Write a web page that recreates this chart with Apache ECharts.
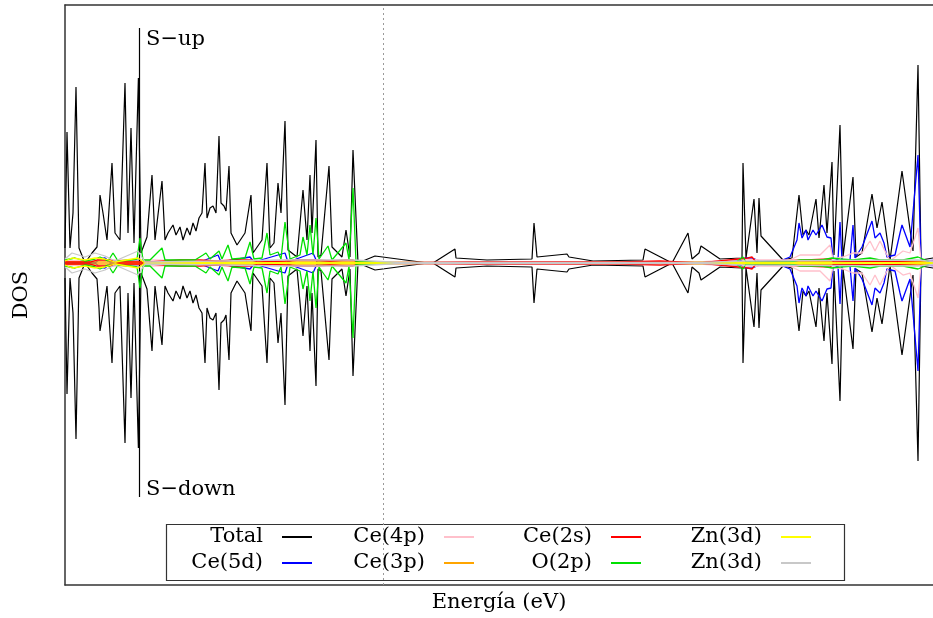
<!DOCTYPE html>
<html>
<head>
<meta charset="utf-8">
<script src="https://cdn.jsdelivr.net/npm/echarts@6/dist/echarts.min.js"></script>
<style>
html,body{margin:0;padding:0;background:#fff;}
#chart{width:933px;height:618px;}
</style>
</head>
<body>
<div id="chart"></div>
<script>
// ---- Data: [energy (eV, relative to Fermi level), DOS magnitude] ----
// Spin-up is drawn upward, spin-down (same magnitudes) downward on a mirrored axis.
const totalDOS = [
 [-15.90,1.5],[-15.80,13.1],[-15.65,1.5],[-15.50,5.0],[-15.35,17.6],[-15.20,1.5],[-14.90,0],
 [-14.55,1.0],[-14.30,1.6],[-14.20,4.5],[-14.15,6.8],[-14.00,5.0],[-13.80,2.3],[-13.55,10.0],
 [-13.40,3.0],[-13.15,2.3],[-12.90,18.0],[-12.75,3.0],[-12.60,13.5],[-12.45,2.0],[-12.23,18.5],
 [-12.10,1.0],[-11.80,2.6],[-11.55,8.8],[-11.40,2.3],[-11.05,8.2],[-10.90,2.3],[-10.75,3.0],
 [-10.50,3.8],[-10.35,2.8],[-10.15,3.6],[-10.00,2.3],[-9.80,3.5],[-9.65,2.8],[-9.50,4.0],
 [-9.35,3.2],[-9.20,4.5],[-9.05,5.0],[-8.90,10.0],[-8.80,4.5],[-8.65,5.5],[-8.50,5.7],
 [-8.35,5.0],[-8.20,12.7],[-8.10,6.0],[-7.95,5.7],[-7.85,5.2],[-7.70,9.7],[-7.60,3.0],
 [-7.30,1.8],[-6.90,3.0],[-6.60,6.8],[-6.50,1.0],[-6.05,2.3],[-5.80,10.0],[-5.65,1.5],
 [-5.45,2.0],[-5.25,8.0],[-5.10,5.0],[-4.90,14.2],[-4.75,1.3],[-4.30,0.6],[-4.00,7.3],
 [-3.80,2.3],[-3.65,8.8],[-3.55,3.0],[-3.35,12.3],[-3.25,0.6],[-3.10,0.8],[-2.70,9.7],
 [-2.55,1.6],[-2.05,0.6],[-1.85,3.3],[-1.65,0.6],[-1.50,11.3],[-1.25,0],[-0.40,0.7],
 [-0.30,0.5],[2.25,0],[2.50,0],[3.60,1.4],[3.65,0.5],[5.20,0.3],[7.45,0.4],[7.55,4.0],
 [7.70,0.6],[9.20,0.9],[9.30,0.6],[10.50,0.2],[13.00,0.3],[13.10,1.4],[14.45,0],[15.25,3.0],
 [15.45,0.4],[15.80,1.0],[15.90,1.7],[16.85,0.4],[17.95,0.5],[18.00,10.0],[18.15,0.5],
 [18.55,6.4],[18.70,1.0],[18.80,6.5],[18.90,2.7],[20.00,0.3],[20.45,0.5],[20.80,6.8],
 [21.00,2.8],[21.15,3.3],[21.30,2.8],[21.65,6.4],[21.80,2.5],[22.05,7.8],[22.20,3.0],
 [22.45,10.1],[22.55,0.8],[22.85,13.8],[23.00,0.6],[23.50,8.6],[23.65,0.6],[23.95,1.0],
 [24.45,6.9],[24.70,3.5],[24.95,6.1],[25.35,0.3],[25.95,9.2],[26.50,1.2],[26.75,19.8],
 [26.90,0.3],[27.50,0.5],[27.90,0.5]
];
const ce5dDOS = [
 [-15.90,0],[-14.40,0],[-14.15,0.4],[-13.90,0.5],[-13.65,0.1],[-12.15,0.3],[-12.00,0],
 [-9.15,0.1],[-8.25,0.8],[-8.10,0.1],[-6.65,0.6],[-6.45,0.1],[-4.90,1.0],[-4.75,0.1],
 [-3.50,1.0],[-3.30,0.1],[-1.15,0],[15.85,0],[17.85,0.2],[18.10,0.5],[18.45,0.5],[18.85,0.2],
 [19.85,0.2],[20.35,0.6],[20.70,2.3],[20.80,4.0],[20.95,2.5],[21.15,3.3],[21.25,2.3],
 [21.50,3.3],[21.65,2.8],[21.95,3.8],[22.20,2.6],[22.40,2.5],[22.50,0.5],[22.75,0.3],
 [22.85,4.1],[22.95,0.3],[23.35,0.3],[23.50,3.8],[23.60,0.5],[23.95,1.6],[24.45,4.2],
 [24.60,2.5],[24.85,3.0],[25.05,2.0],[25.20,0.6],[25.60,0.8],[25.85,3.0],[25.95,3.8],
 [26.35,1.6],[26.75,10.8],[26.90,0.2],[27.90,0.3]
];
const ce4pDOS = [
 [-15.90,0.2],[-14.15,0.3],[-12.15,0.3],[-6.65,0.2],[-4.15,0.3],[-1.50,0.2],[0.85,0],
 [10.85,0.1],[15.85,0.1],[17.35,0.3],[18.00,0.4],[18.85,0.3],[20.35,0.3],[20.85,0.8],
 [21.85,0.8],[22.35,1.8],[22.50,0.4],[23.00,0.6],[23.50,1.0],[23.95,1.0],[24.35,2.2],
 [24.60,1.2],[24.85,2.2],[25.05,1.4],[25.35,0.2],[26.00,1.2],[26.35,1.0],[26.75,3.5],
 [26.90,0.2],[27.90,0.2]
];
const ce3pDOS = [
 [-15.90,0.1],[-12.15,0.1],[-1.50,0.1],[5.00,0],[18.00,0.1],[26.75,0.2],[27.90,0]
];
const ce2sDOS = [
 [-15.90,0.1],[-14.65,0.1],[-14.30,0.3],[-13.65,0.3],[-13.25,0.1],[-11.65,0.1],[-10.90,0.2],
 [-10.15,0.3],[-9.15,0.3],[-8.35,0.2],[-7.40,0.3],[-6.55,0.3],[-6.25,0.1],[-4.90,0.2],
 [-4.15,0.3],[-3.35,0.3],[-2.65,0.2],[-1.85,0.3],[-1.50,0.3],[-1.15,0],[4.35,0.1],[5.85,0.1],
 [11.85,0.1],[13.85,0.2],[15.85,0],[18.25,0.5],[18.45,0.6],[18.65,0.1],[22.35,0.4],
 [22.55,0.1],[24.85,0.2],[27.35,0]
];
const o2pDOS = [
 [-15.90,0.3],[-15.40,0.5],[-14.90,0.2],[-14.40,0.4],[-14.15,0.6],[-13.75,0.2],[-13.50,1.0],
 [-13.25,0.2],[-12.65,0.3],[-12.30,0.4],[-12.15,2.5],[-12.00,0.3],[-11.65,0.3],[-11.05,1.5],
 [-10.90,0.3],[-9.40,0.3],[-9.00,0.8],[-8.85,1.0],[-8.65,0.4],[-8.20,1.2],[-8.05,0.4],
 [-7.75,1.8],[-7.55,0.4],[-6.90,0.5],[-6.65,2.1],[-6.45,0.4],[-6.05,0.5],[-5.80,3.0],
 [-5.65,0.8],[-5.25,1.1],[-5.10,0.4],[-4.90,4.1],[-4.65,0.4],[-4.15,0.8],[-4.00,2.6],
 [-3.80,0.8],[-3.65,3.8],[-3.50,0.8],[-3.35,4.5],[-3.20,0.4],[-2.75,1.7],[-2.55,0.3],
 [-1.85,2.0],[-1.70,0.3],[-1.50,7.5],[-1.35,0.1],[-0.65,0.1],[0.85,0],[17.60,0],[18.00,0.6],
 [18.15,0.1],[20.35,0.1],[20.85,0.3],[21.45,0.3],[21.95,0.3],[22.45,0.5],[22.85,0.4],
 [23.50,0.3],[24.35,0.5],[24.85,0.3],[26.00,0.3],[26.75,0.6],[27.35,0.1],[27.90,0]
];
const zn3dYellowDOS = [
 [-15.90,0.2],[-15.55,0.5],[-14.90,0.3],[-14.40,0.5],[-13.90,0.4],[-13.40,0.1],[-12.25,0.5],
 [-11.90,0],[27.90,0]
];
const zn3dGrayDOS = [
 [-15.90,0.4],[-15.55,1.0],[-14.90,0.6],[-14.40,1.0],[-13.90,0.7],[-13.40,0.2],[-12.25,1.2],
 [-11.90,0.1],[-8.20,0.2],[-4.90,0.3],[-1.50,0.3],[0.85,0.05],[15.85,0.05],[18.00,0.2],
 [26.75,0.3],[27.90,0.05]
];
const seriesNames = ['Total','Ce(5d)','Ce(4p)','Ce(3p)','Ce(2s)','O(2p)','Zn(3d)','Zn(3d) '];
const fermiEnergy = [0];
const spinMarkerEnergy = -12.18;
const spinMarkerRange = [23.5, -23.4];

// ---- Styling ----
const FONT = 'DejaVu Serif';
const AXIS_COLOR = '#333';
const styles = [
  {data: totalDOS, color:'#000000', width:1.2},
  {data: ce5dDOS, color:'#0000ff', width:1.3},
  {data: ce4pDOS, color:'#ffc0cb', width:1.3},
  {data: ce3pDOS, color:'#ffa500', width:1.3},
  {data: ce2sDOS, color:'#ff0000', width:1.3},
  {data: o2pDOS, color:'#00e000', width:1.3},
  {data: zn3dYellowDOS, color:'#ffff00', width:1.3},
  {data: zn3dGrayDOS, color:'#c8c8c8', width:1.3}
];

const series = [];
styles.forEach((s, i) => {
  [0, 1].forEach(axisIdx => {
    const ser = {
      type: 'line',
      name: seriesNames[i],
      data: s.data,
      xAxisIndex: 0,
      yAxisIndex: axisIdx,
      symbol: 'none',
      showSymbol: false,
      clip: true,
      lineStyle: {color: s.color, width: s.width},
      itemStyle: {color: s.color},
      emphasis: {disabled: true},
      animation: false,
      z: 2 + i
    };
    if (i === 0 && axisIdx === 0) {
      ser.markLine = {
        silent: true, symbol: ['none','none'], animation: false,
        label: {show: false},
        data: [
          {xAxis: fermiEnergy[0], lineStyle: {color:'#9a9a9a', type:[2,3], width:1}},
          [
            {coord:[spinMarkerEnergy, spinMarkerRange[0]], lineStyle:{color:'#000', type:'solid', width:1.2}},
            {coord:[spinMarkerEnergy, spinMarkerRange[1]]}
          ]
        ]
      };
    }
    series.push(ser);
  });
});

const legendRights = [620, 458, 291, 121];
const legends = legendRights.map((r, k) => ({
  orient: 'vertical',
  align: 'right',
  right: r,
  top: 525,
  padding: 0,
  itemGap: 2,
  itemWidth: 30,
  itemHeight: 14,
  selectedMode: false,
  data: [seriesNames[2*k], seriesNames[2*k+1]],
  formatter: n => n.trim(),
  lineStyle: {width: 2},
  itemStyle: {opacity: 0},
  textStyle: {fontFamily: FONT, fontSize: 21, lineHeight: 24, color: '#000', padding: [0, 14, 0, 0]}
}));

const hiddenAxisParts = {
  axisTick: {show: false}, axisLabel: {show: false}, splitLine: {show: false}
};

const option = {
  animation: false,
  backgroundColor: '#fff',
  grid: {left: 65, top: 5, right: 0, bottom: 33, show: false},
  xAxis: [
    Object.assign({
      type: 'value', min: -15.9, max: 27.5, position: 'bottom',
      axisLine: {show: true, onZero: false, lineStyle: {color: AXIS_COLOR, width: 1.5}},
      name: 'Energía (eV)', nameLocation: 'middle', nameGap: 7,
      nameTextStyle: {fontFamily: FONT, fontSize: 21, color: '#000', verticalAlign: 'top'}
    }, hiddenAxisParts),
    Object.assign({
      type: 'value', min: -15.9, max: 27.5, position: 'top',
      axisLine: {show: true, onZero: false, lineStyle: {color: AXIS_COLOR, width: 1.5}}
    }, hiddenAxisParts)
  ],
  yAxis: [
    Object.assign({
      type: 'value', min: -32.2, max: 25.8, position: 'left',
      axisLine: {show: true, onZero: false, lineStyle: {color: AXIS_COLOR, width: 1.5}},
      name: 'DOS', nameLocation: 'middle', nameGap: 33, nameRotate: 90,
      nameTextStyle: {fontFamily: FONT, fontSize: 21, color: '#000'}
    }, hiddenAxisParts),
    {
      type: 'value', min: -25.8, max: 32.2, inverse: true, show: false,
      splitLine: {show: false}
    }
  ],
  legend: legends,
  graphic: [
    {type: 'rect', left: 164, top: 522, silent: true,
     shape: {width: 678, height: 56}, style: {fill: 'none', stroke: '#333', lineWidth: 1.2}},
    {type: 'text', left: 146, top: 29, silent: true,
     style: {text: 'S\u2212up', font: '21px "DejaVu Serif"', fill: '#000'}},
    {type: 'text', left: 146, top: 479, silent: true,
     style: {text: 'S\u2212down', font: '21px "DejaVu Serif"', fill: '#000'}}
  ],
  series: series
};

const chart = echarts.init(document.getElementById('chart'), null, {renderer: 'canvas'});
chart.setOption(option);
</script>
</body>
</html>
